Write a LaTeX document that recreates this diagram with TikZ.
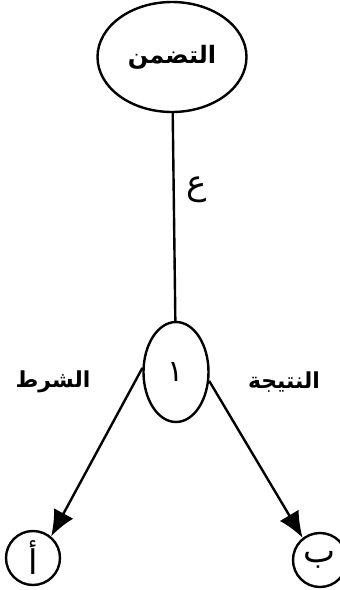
\documentclass[tikz,border=0pt]{standalone}
\usepackage{fontspec}
\newfontfamily\arabicfont[Script=Arabic]{DejaVu Sans}
\TeXXeTstate=1
\usetikzlibrary{shapes.geometric, arrows.meta}

\begin{document}
\begin{tikzpicture}[
        x=1pt, y=-1pt,
        bigoval/.style={
            ellipse, draw=black, line width=2.4pt,
            inner sep=0pt, font=\arabicfont\bfseries\fontsize{24}{26}\selectfont
        },
        leaf/.style={
            circle, draw=black, line width=2.4pt,
            minimum size=54pt, inner sep=0pt,
            font=\arabicfont\fontsize{34}{36}\selectfont
        },
        lbl/.style={font=\arabicfont\bfseries\fontsize{22}{24}\selectfont},
        link/.style={line width=2.4pt},
        arrowlink/.style={line width=2.4pt, -{Latex[length=26pt, width=22pt]}}
    ]
        \useasboundingbox (0,0) rectangle (340,590);

        \node[bigoval, minimum width=149pt, minimum height=110pt] (tadammun) at (172,57) {\beginR التضمن\endR};
        \node[bigoval, minimum width=65pt, minimum height=100pt,
            font=\arabicfont\fontsize{30}{32}\selectfont] (wahid) at (176,372) {١};

        \node[leaf] (alif) at (33,558) {\beginR أ\endR};
        \node[leaf] (baa) at (320,560) {\beginR ب\endR};

        \draw[link] (tadammun) -- (wahid);
        \draw[arrowlink] (wahid.173) -- (alif.50);
        \draw[arrowlink] (wahid.-15) -- (baa.128);

        \node[lbl, font=\arabicfont\fontsize{34}{36}\selectfont] (ayn) at (197,190) {\beginR ع\endR};
        \node[lbl] (shart) at (53,382) {\beginR الشرط\endR};
        \node[lbl] (natija) at (284,382) {\beginR النتيجة\endR};
    \end{tikzpicture}
\end{document}
